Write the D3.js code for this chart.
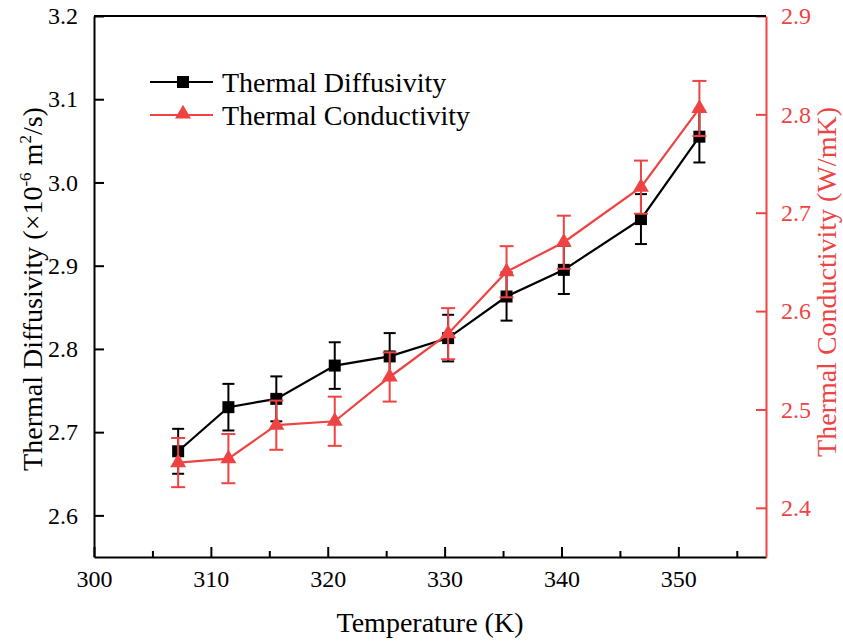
<!DOCTYPE html>
<html><head><meta charset="utf-8">
<script src="https://cdn.jsdelivr.net/npm/d3@7"></script>
<style>body{margin:0;background:#fff}svg{display:block}</style>
</head><body>
<svg id="c" width="843" height="641" font-family="'Liberation Serif', 'Times New Roman', Times, 'DejaVu Serif', serif"></svg>
<script>
const temperature = [307.2, 311.5, 315.6, 320.6, 325.3, 330.3, 335.3, 340.2, 346.8, 351.8];
const diffusivity = [2.677, 2.730, 2.740, 2.780, 2.791, 2.813, 2.863, 2.895, 2.956, 3.055];
const diffusivityErr = [0.027, 0.028, 0.027, 0.028, 0.028, 0.028, 0.029, 0.029, 0.030, 0.031];
const conductivity = [2.446, 2.450, 2.484, 2.488, 2.533, 2.577, 2.640, 2.670, 2.726, 2.806];
const conductivityErr = [0.025, 0.025, 0.025, 0.025, 0.025, 0.026, 0.026, 0.027, 0.027, 0.028];
const xTicks = [300, 310, 320, 330, 340, 350];
const xMinorTicks = [305, 315, 325, 335, 345, 355];
const leftTicks = [2.6, 2.7, 2.8, 2.9, 3.0, 3.1, 3.2];
const rightTicks = [2.4, 2.5, 2.6, 2.7, 2.8, 2.9];
const seriesNames = ["Thermal Diffusivity", "Thermal Conductivity"];

const FONT = "'Liberation Serif', 'Times New Roman', Times, 'DejaVu Serif', serif";
const RED = "#ef4343";
const svg = d3.select("#c");
const L = 94, R = 766, T = 16, B = 557;
const x = d3.scaleLinear().domain([300, 357.5]).range([L, R]);
const yL = d3.scaleLinear().domain([2.55, 3.2]).range([B, T]);
const yR = d3.scaleLinear().domain([2.35, 2.9]).range([B, T]);

// axes
const fmt = d3.format(".1f");
const gx = svg.append("g").attr("transform", `translate(0,${B})`)
  .call(d3.axisBottom(x).tickValues(xTicks).tickSizeInner(-10).tickSizeOuter(0).tickPadding(13));
gx.selectAll(".tick text").attr("font-size", 24).attr("fill", "#000");
const gxm = svg.append("g").attr("transform", `translate(0,${B})`)
  .call(d3.axisBottom(x).tickValues(xMinorTicks).tickSizeInner(-6).tickSizeOuter(0).tickFormat(""));
gxm.select(".domain").remove();

const gl = svg.append("g").attr("transform", `translate(${L},0)`)
  .call(d3.axisLeft(yL).tickValues(leftTicks).tickFormat(fmt).tickSizeInner(-10).tickSizeOuter(0).tickPadding(16));
gl.selectAll(".tick text").attr("font-size", 24).attr("fill", "#000");

const gr = svg.append("g").attr("transform", `translate(${R},0)`)
  .call(d3.axisRight(yR).tickValues(rightTicks).tickFormat(fmt).tickSizeInner(-10).tickSizeOuter(0).tickPadding(15));
gr.selectAll(".tick text").attr("font-size", 24).attr("fill", RED);
gr.selectAll("line, path").attr("stroke", RED);

svg.selectAll("g").attr("font-family", FONT);
svg.selectAll(".domain").attr("stroke-width", 2);
svg.selectAll(".tick line").attr("stroke-width", 2);
// top border
svg.append("line").attr("x1", L).attr("x2", R).attr("y1", T).attr("y2", T).attr("stroke", "#000").attr("stroke-width", 2);

// titles
svg.append("text").attr("x", (L + R) / 2).attr("y", 632).attr("text-anchor", "middle").attr("font-size", 28).text("Temperature (K)");
const ylt = svg.append("text").attr("transform", `translate(42,289) rotate(-90)`).attr("text-anchor", "middle").attr("font-size", 28);
ylt.append("tspan").text("Thermal Diffusivity (×10");
ylt.append("tspan").attr("font-size", 17).attr("dy", -11).text("-6");
ylt.append("tspan").attr("dy", 11).text(" m");
ylt.append("tspan").attr("font-size", 17).attr("dy", -11).text("2");
ylt.append("tspan").attr("dy", 11).text("/s)");
svg.append("text").attr("transform", `translate(836,282) rotate(-90)`).attr("text-anchor", "middle")
  .attr("font-size", 28).attr("fill", RED).text("Thermal Conductivity (W/mK)");

const dD = temperature.map((t, i) => ({t, v: diffusivity[i], e: diffusivityErr[i]}));
const dC = temperature.map((t, i) => ({t, v: conductivity[i], e: conductivityErr[i]}));

function errorBars(data, y, color, cap) {
  const g = svg.append("g").attr("stroke", color).attr("stroke-width", 2);
  data.forEach(d => {
    g.append("line").attr("x1", x(d.t)).attr("x2", x(d.t)).attr("y1", y(d.v - d.e)).attr("y2", y(d.v + d.e));
    [d.v - d.e, d.v + d.e].forEach(v => g.append("line").attr("x1", x(d.t) - cap).attr("x2", x(d.t) + cap).attr("y1", y(v)).attr("y2", y(v)));
  });
}
const line = (y) => d3.line().x(d => x(d.t)).y(d => y(d.v));

errorBars(dD, yL, "#000", 6);
svg.append("path").datum(dD).attr("d", line(yL)).attr("fill", "none").attr("stroke", "#000").attr("stroke-width", 2.2);
svg.append("g").selectAll("rect").data(dD).join("rect")
  .attr("x", d => x(d.t) - 6).attr("y", d => yL(d.v) - 6).attr("width", 12).attr("height", 12).attr("fill", "#000");

errorBars(dC, yR, RED, 7);
svg.append("path").datum(dC).attr("d", line(yR)).attr("fill", "none").attr("stroke", RED).attr("stroke-width", 2.2);
const tri = d3.symbol().type(d3.symbolTriangle).size(110);
svg.append("g").selectAll("path").data(dC).join("path")
  .attr("transform", d => `translate(${x(d.t)},${yR(d.v)})`).attr("d", tri).attr("fill", RED);

// legend
const lg = svg.append("g");
[0, 1].forEach(i => {
  const yy = 82 + i * 33;
  const c = i === 0 ? "#000" : RED;
  lg.append("line").attr("x1", 150).attr("x2", 213).attr("y1", yy).attr("y2", yy).attr("stroke", c).attr("stroke-width", 2.2);
  if (i === 0) lg.append("rect").attr("x", 177).attr("y", yy - 6).attr("width", 12).attr("height", 12).attr("fill", c);
  else lg.append("path").attr("transform", `translate(183,${yy - 1})`).attr("d", tri).attr("fill", c);
  lg.append("text").attr("x", 222).attr("y", yy + 10).attr("font-size", 28).text(seriesNames[i]);
});
</script>
</body></html>
